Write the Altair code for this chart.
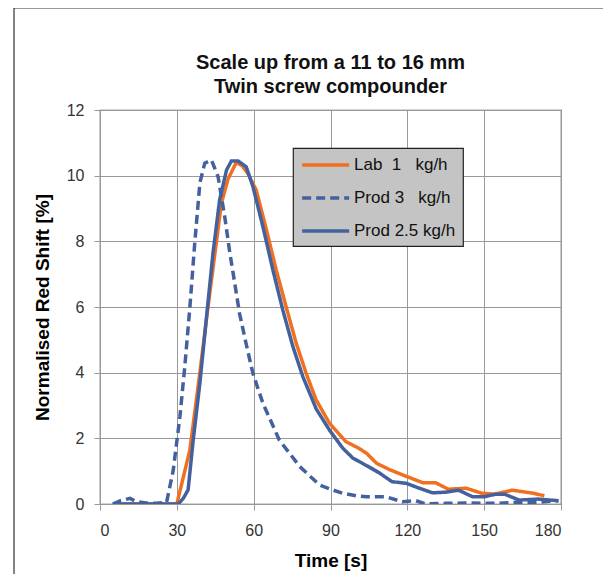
import altair as alt
import pandas as pd

NB = "\u00a0"
series_names = [
    "Lab" + NB * 2 + "1" + NB * 3 + "kg/h",
    "Prod 3" + NB * 3 + "kg/h",
    "Prod 2.5 kg/h",
]
colors = ["#F07020", "#43619F", "#43619F"]
dashes = [[1, 0], [9, 5], [1, 0]]

title_lines = ["Scale up from a 11 to 16 mm", "Twin screw compounder"]

lab_t = [6, 30, 35.1, 39, 42, 45.4, 47.4, 50, 53.2, 55.5, 57.7, 61, 65, 68.8, 72.7, 76.6, 80.5, 84.4,
         89.6, 96, 101, 104, 108, 113, 120, 126, 131, 136, 143, 149, 154, 161, 169, 173.5]
lab_v = [0, 0, 1.65, 4.0, 5.9, 7.95, 9.16, 9.9, 10.4, 10.3, 10.07, 9.56, 8.35, 7.13, 6.0, 4.9, 3.98, 3.17,
         2.46, 1.9, 1.7, 1.55, 1.24, 1.05, 0.83, 0.65, 0.65, 0.45, 0.48, 0.33, 0.3, 0.42, 0.33, 0.25]

prod3_t = [5, 8, 11.7, 14, 18, 22, 26, 28.6, 31.2, 33.1, 35.1, 37, 39, 40.9, 43.5, 46.1, 48.7, 50.6,
           54.5, 57, 59.7, 63.6, 70, 78, 85.7, 90, 94.7, 100, 104, 111.7, 118, 123.4, 127, 135, 145,
           155, 163, 170, 179]
prod3_v = [0, 0.1, 0.17, 0.08, 0.03, 0.02, 0.05, 1.03, 2.66, 4.18, 6.0, 7.95, 9.78, 10.38, 10.48, 9.97,
           8.75, 7.7, 5.8, 4.9, 3.98, 3.07, 1.95, 1.14, 0.58, 0.45, 0.33, 0.25, 0.22, 0.22, 0.07, 0.1,
           0.0, 0.02, 0.03, 0.02, 0.05, 0.05, 0.1]

prod25_t = [5, 10, 20, 30.6, 32.5, 34.4, 36.4, 39, 41.6, 44.1, 46.7, 49.4, 51.3, 53.9, 57.1, 59.7,
            63.6, 67.5, 71.4, 75.3, 79.2, 84.4, 89.6, 94.8, 98.7, 105, 109, 114, 119.6, 124, 129.8,
            135, 140, 145.5, 150, 154.6, 158, 163.6, 171, 179]
prod25_v = [0, 0, 0, 0, 0.17, 0.43, 1.95, 3.68, 5.7, 7.63, 9.26, 10.17, 10.45, 10.45, 10.27, 9.67,
            8.45, 7.13, 5.9, 4.8, 3.88, 2.9, 2.25, 1.7, 1.4, 1.13, 0.95, 0.68, 0.63, 0.5, 0.34,
            0.36, 0.42, 0.22, 0.22, 0.3, 0.3, 0.12, 0.15, 0.1]

x_ticks = [0, 30, 60, 90, 120, 150, 180]
y_ticks = [0, 2, 4, 6, 8, 10, 12]

rows = []
for name, ts, vs in zip(series_names, [lab_t, prod3_t, prod25_t], [lab_v, prod3_v, prod25_v]):
    for i, (t, v) in enumerate(zip(ts, vs)):
        rows.append({"series": name, "t": t, "v": v, "i": i})
df = pd.DataFrame(rows)

FONT = "Liberation Sans"

leg = dict(title=None, orient="none", legendX=193, legendY=38)

lines = alt.Chart(df).mark_line(strokeWidth=3.5, clip=True).encode(
    x=alt.X("t:Q", scale=alt.Scale(domain=[0, 180], nice=False),
            axis=alt.Axis(values=x_ticks, title="Time [s]", labelPadding=12, titlePadding=13)),
    y=alt.Y("v:Q", scale=alt.Scale(domain=[0, 12], nice=False),
            axis=alt.Axis(values=y_ticks, title="Normalised Red Shift [%]", labelPadding=10,
                          titlePadding=14)),
    color=alt.Color("series:N", scale=alt.Scale(domain=series_names, range=colors),
                    legend=alt.Legend(**leg)),
    strokeDash=alt.StrokeDash("series:N", scale=alt.Scale(domain=series_names, range=dashes),
                              legend=alt.Legend(**leg)),
    order="i:Q",
)

one = pd.DataFrame({"a": [0]})

shadow = alt.Chart(one).mark_rect(fill="#555555", opacity=0.7, clip=False).encode(
    x=alt.value(197), x2=alt.value(362), y=alt.value(42), y2=alt.value(136)
)

frame = alt.Chart(one).mark_rect(fill=None, stroke="#333333", strokeWidth=1.2, clip=False).encode(
    x=alt.value(-86), x2=alt.value(504), y=alt.value(-102), y2=alt.value(484)
)

title_df1 = pd.DataFrame({"txt": [title_lines[0]]})
title_df2 = pd.DataFrame({"txt": [title_lines[1]]})
tstyle = dict(font=FONT, fontSize=20, fontWeight="bold", color="#111111", align="center",
              baseline="middle", clip=False)
title1 = alt.Chart(title_df1).mark_text(**tstyle).encode(
    text="txt:N", x=alt.value(230.5), y=alt.value(-47))
title2 = alt.Chart(title_df2).mark_text(**tstyle).encode(
    text="txt:N", x=alt.value(230.5), y=alt.value(-23))

chart = alt.layer(frame, title1, title2, shadow, lines).properties(
    width=461,
    height=394,
    autosize=alt.AutoSizeParams(type="none"),
    padding={"left": 92, "top": 102, "right": 42, "bottom": 70},
).configure_view(
    stroke="#555555", strokeWidth=1.2
).configure_axis(
    labelFont=FONT, labelFontSize=16, labelColor="#333333",
    titleFont=FONT, titleFontSize=19, titleFontWeight="bold", titleColor="#000000",
    gridColor="#999999", gridWidth=1, domainColor="#999999", tickColor="#999999", tickSize=6,
).configure_legend(
    labelFont=FONT, labelFontSize=17, labelColor="#111111",
    fillColor="#C4C4C4", strokeColor="#222222", strokeWidth=1.2, padding=7,
    symbolType="M-1,0H5", symbolSize=245, symbolStrokeWidth=3.5, rowPadding=15, labelOffset=34,
)

chart.save("out.html", embed_options={"renderer": "svg", "actions": False})
